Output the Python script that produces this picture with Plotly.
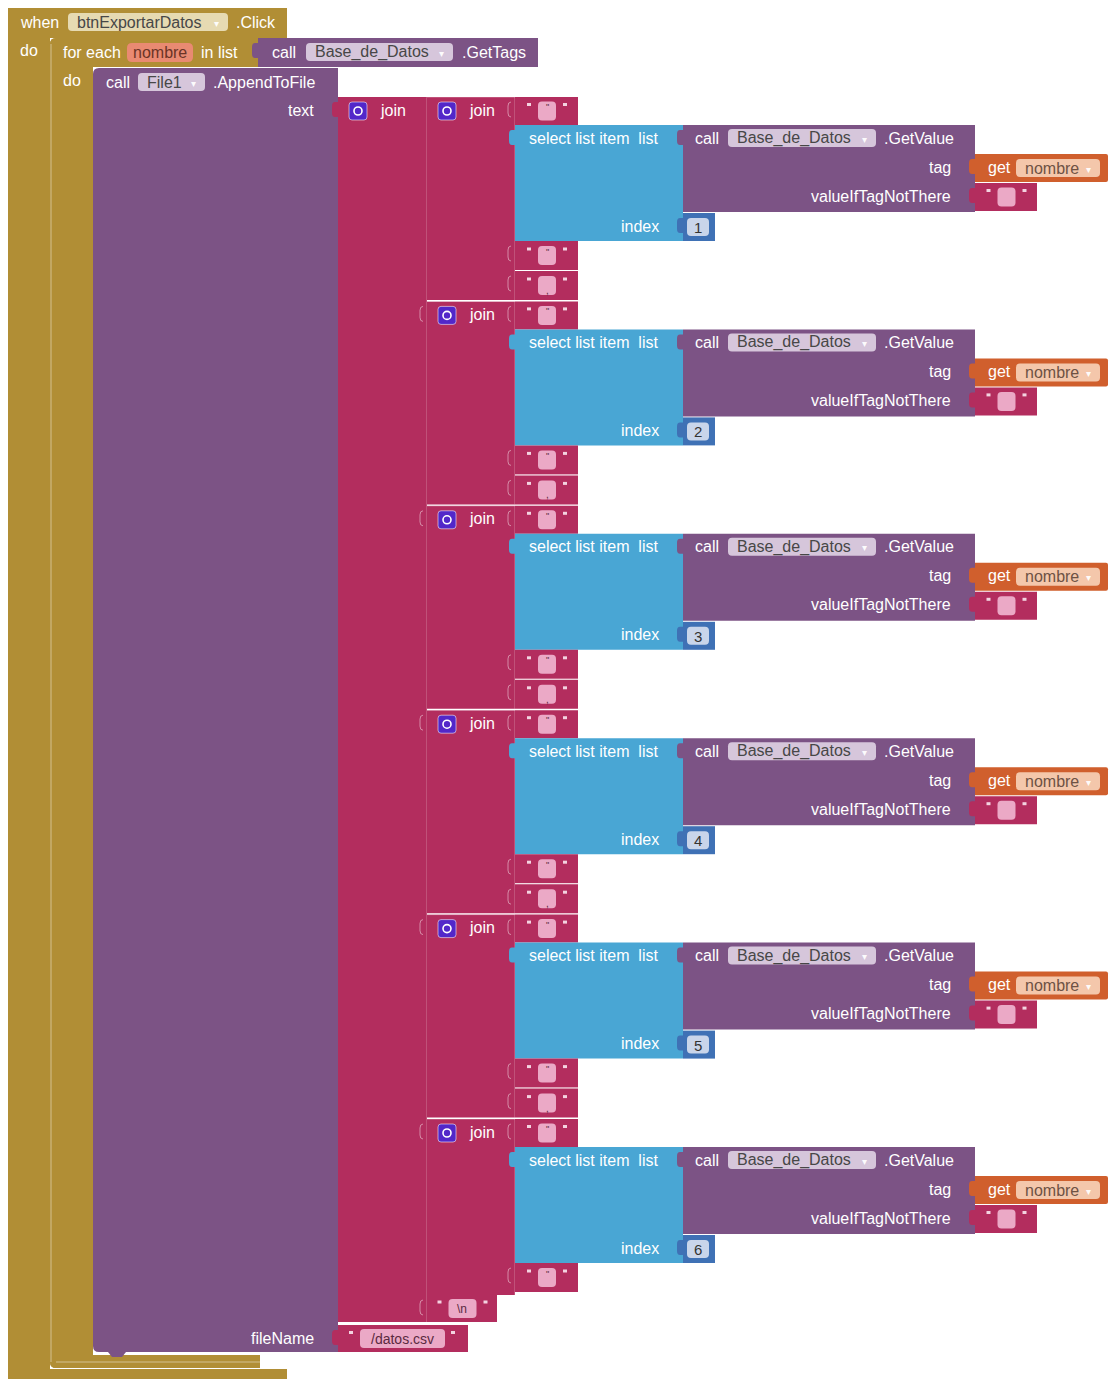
import plotly.graph_objects as go

# ---------------- content (labels / values) ----------------
event_component = "btnExportarDatos"
event_name = ".Click"
loop_var = "nombre"
db_component = "Base_de_Datos"
file_component = "File1"
tags_method = ".GetTags"
append_method = ".AppendToFile"
getvalue_method = ".GetValue"
item_indices = [1, 2, 3, 4, 5, 6]
after_item = ['"', '"', '"', '"', '"', '"']
separators = [',', ',', ',', ',', ',', None]
before_item = ['"', '"', '"', '"', '"', '"']
newline_text = "\\n"
file_name = "/datos.csv"

# ---------------- styles ----------------
C = dict(
    gold="#B18E35", purple="#7C5385", red="#B32D5E", lblue="#49A6D4",
    math="#3F71B5", orange="#D05F2D",
    gold_pill="#E6DAB2", purple_pill="#D6C6DB", orange_pill="#F4C7AB",
    salmon="#E98A72", text_pill="#EBA9C6", num_pill="#C9D5EA",
    icon="#5227C9", sep="rgba(255,255,255,0.35)",
)
FONT = "Liberation Sans, Arial, sans-serif"
W, H = 1110, 1380

shapes, anns = [], []


def rpath(x0, y0, x1, y1, r=(0, 0, 0, 0)):
    tl, tr, br, bl = r
    p = f"M {x0},{y0+tl} "
    if tl:
        p += f"Q {x0},{y0} {x0+tl},{y0} "
    p += f"L {x1-tr},{y0} "
    if tr:
        p += f"Q {x1},{y0} {x1},{y0+tr} "
    p += f"L {x1},{y1-br} "
    if br:
        p += f"Q {x1},{y1} {x1-br},{y1} "
    p += f"L {x0+bl},{y1} "
    if bl:
        p += f"Q {x0},{y1} {x0},{y1-bl} "
    return p + "Z"


def block(x0, y0, x1, y1, fill, r=(0, 0, 0, 0), lw=0, lc=None):
    shapes.append(dict(type="path", path=rpath(x0, y0, x1, y1, r), fillcolor=fill,
                       line=dict(width=lw, color=lc or fill), xref="x", yref="y"))


def poly(pts, fill):
    p = "M " + " L ".join(f"{a},{b}" for a, b in pts) + " Z"
    shapes.append(dict(type="path", path=p, fillcolor=fill, line=dict(width=0)))


def line(x0, y0, x1, y1, color=C["sep"], w=1):
    shapes.append(dict(type="line", x0=x0, y0=y0, x1=x1, y1=y1, line=dict(color=color, width=w)))


def tab(x0, ty, fill):
    p = (f"M {x0+1},{ty+5} L {x0-3},{ty+5} Q {x0-6},{ty+5} {x0-6},{ty+9} "
         f"L {x0-6},{ty+16} Q {x0-6},{ty+20} {x0-3},{ty+20} L {x0+1},{ty+20} Z")
    shapes.append(dict(type="path", path=p, fillcolor=fill, line=dict(width=0)))


def socket_mark(x0, ty):
    p = f"M {x0-4},{ty+5} Q {x0-7},{ty+5} {x0-7},{ty+9} L {x0-7},{ty+16} Q {x0-7},{ty+20} {x0-4},{ty+20}"
    shapes.append(dict(type="path", path=p, line=dict(color="rgba(255,255,255,0.45)", width=1)))


def text(x, y, s, anchor="left", color="white", size=16):
    anns.append(dict(x=x, y=y, text=s, xref="x", yref="y", showarrow=False,
                     xanchor=anchor, yanchor="middle",
                     font=dict(family=FONT, size=size, color=color)))


def dropdown(x0, x1, yc, label, fill, tcolor="#474747", h=18):
    block(x0, yc - h / 2, x1, yc + h / 2, fill, r=(4, 4, 4, 4))
    text(x0 + 7, yc, label, color=tcolor, size=16)
    text(x1 - 12, yc + 1, "▾", anchor="center", color="rgba(255,255,255,0.95)", size=10)


def quote_block(x0, x1, yt, content, fill=C["red"], h=28, pill_w=18):
    block(x0, yt, x1, yt + h, fill)
    yc = yt + h / 2
    cx = (x0 + x1) / 2 + 0.5
    block(cx - pill_w / 2, yc - 9.5, cx + pill_w / 2, yc + 9.5, C["text_pill"], r=(4, 4, 4, 4))
    qx0, qx1 = cx - pill_w / 2 - 9, cx + pill_w / 2 + 9
    for qx in (qx0, qx1):
        block(qx - 2, yc - 8, qx + 2, yc - 5, "#F3D3E0")
    if content:
        if content == ",":
            text(cx, yc + 5, content, anchor="center", color="#5a2a40", size=10)
        else:
            text(cx, yc - 4, content, anchor="center", color="#5a2a40", size=9)


def join_icon(x0, yc):
    block(x0, yc - 9, x0 + 18, yc + 9, C["icon"], r=(3, 3, 3, 3), lw=1, lc="rgba(255,255,255,0.55)")
    shapes.append(dict(type="circle", x0=x0 + 5, y0=yc - 4, x1=x0 + 13, y1=yc + 4,
                       line=dict(color="white", width=1.6), fillcolor="rgba(0,0,0,0)"))


# ---------------- event block (when ... do) ----------------
poly([(8, 1379), (8, 8), (287, 8), (287, 38), (50, 38), (50, 1369), (287, 1369), (287, 1379)], C["gold"])
block(8, 8, 287, 38, C["gold"], r=(8, 3, 0, 0))
block(8, 1369, 287, 1379, C["gold"], r=(0, 0, 3, 8))
text(18, 22, "when")
dropdown(68, 228, 22, event_component, C["gold_pill"])
text(234, 22, event_name)
text(18, 50, "do")

# ---------------- for each block ----------------
block(50, 38, 260, 67, C["gold"], r=(6, 0, 0, 0))
block(50, 38, 93, 1368, C["gold"], r=(6, 0, 0, 6))
block(50, 1355, 260, 1368, C["gold"], r=(0, 0, 0, 6))
line(51, 44, 51, 1362, "rgba(255,255,255,0.45)")
line(56, 1362, 260, 1362, "rgba(255,255,255,0.45)")
text(61, 52, "for each")
block(127, 43, 193, 62, C["salmon"], r=(5, 5, 5, 5))
text(160, 52.5, loop_var, anchor="center", color="#6b3426")
text(199, 52, "in list")
text(61, 80, "do")

# GetTags call
tab(258, 38, C["purple"])
block(258, 38, 538, 67, C["purple"])
text(270, 52, "call")
dropdown(306, 453, 52, db_component, C["purple_pill"])
text(460, 52, tags_method)

# ---------------- AppendToFile block ----------------
block(93, 68, 338, 1352, C["purple"], r=(6, 0, 0, 6))
poly([(108, 1352), (126, 1352), (122, 1357), (112, 1357)], C["purple"])
text(104, 82, "call")
dropdown(138, 205, 82, file_component, C["purple_pill"])
text(211, 82, append_method)
text(316, 110, "text", anchor="right")
text(316, 1338, "fileName", anchor="right")

# outer join
tab(338, 97, C["red"])
block(338, 97, 427, 1322, C["red"])
join_icon(349, 111)
text(378, 110, "join")
line(427, 97, 427, 1322)

# inner joins
STEP = 204.4
for k, idx in enumerate(item_indices):
    y0 = 97 + STEP * k
    has_sep = separators[k] is not None
    yend = y0 + (203 if has_sep else 176)
    block(427, y0, 515, yend, C["red"])
    line(427, y0, 515, y0)
    if k > 0:
        socket_mark(427, y0)
    join_icon(438, y0 + 14)
    text(467, y0 + 13, "join")
    line(515, y0, 515, yend)

    # leading quote
    socket_mark(515, y0)
    quote_block(515, 578, y0, before_item[k])

    # select list item
    ys = y0 + 28
    block(515, ys, 683, ys + 116, C["lblue"])
    tab(515, ys, C["lblue"])
    text(527, ys + 13, "select list item  list")
    text(661, ys + 101, "index", anchor="right")

    # GetValue call
    block(683, ys, 975, ys + 87, C["purple"])
    tab(683, ys, C["purple"])
    text(693, ys + 13, "call")
    dropdown(728, 876, ys + 13, db_component, C["purple_pill"])
    text(882, ys + 13, getvalue_method)
    text(953, ys + 42, "tag", anchor="right")
    text(953, ys + 71, "valueIfTagNotThere", anchor="right")

    # get nombre
    block(975, ys + 29, 1108, ys + 57, C["orange"], r=(0, 2, 2, 0))
    tab(975, ys + 29, C["orange"])
    text(986, ys + 42, "get")
    dropdown(1016, 1100, ys + 43, loop_var, C["orange_pill"], tcolor="#6e5244")

    # empty default text
    tab(975, ys + 58, C["red"])
    quote_block(975, 1037, ys + 58, "", h=28)

    # index number
    block(683, ys + 88, 715, ys + 116, C["math"])
    tab(683, ys + 88, C["math"])
    block(687, ys + 93, 709, ys + 111, C["num_pill"], r=(4, 4, 4, 4))
    text(698, ys + 102.5, str(idx), anchor="center", color="#333333", size=15)

    # trailing quote and separator
    yt = ys + 116
    socket_mark(515, yt)
    quote_block(515, 578, yt, after_item[k], h=29)
    if has_sep:
        line(515, yt + 29.5, 578, yt + 29.5)
        socket_mark(515, yt + 30)
        quote_block(515, 578, yt + 30, separators[k], h=29)

# newline text
socket_mark(427, 1295)
quote_block(427, 497, 1295, "", h=27, pill_w=28)
text(462, 1308.5, newline_text, anchor="center", color="#5a2a40", size=12)

# fileName text
tab(338, 1325, C["red"])
block(338, 1325, 468, 1352, C["red"])
block(360, 1329, 445, 1348, C["text_pill"], r=(4, 4, 4, 4))
for qx in (351, 453):
    block(qx - 2, 1331, qx + 2, 1334, "#F3D3E0")
text(402.5, 1338.5, file_name, anchor="center", color="#5a2a40", size=14)

fig = go.Figure()
fig.update_layout(
    width=W, height=H, margin=dict(l=0, r=0, t=0, b=0),
    paper_bgcolor="white", plot_bgcolor="white",
    xaxis=dict(range=[0, W], visible=False, fixedrange=True),
    yaxis=dict(range=[H, 0], visible=False, fixedrange=True),
    shapes=shapes, annotations=anns, showlegend=False,
)
fig.write_html("out.html", config={"displayModeBar": False},
               post_script="document.body.style.margin='0';document.body.style.overflow='hidden';")
